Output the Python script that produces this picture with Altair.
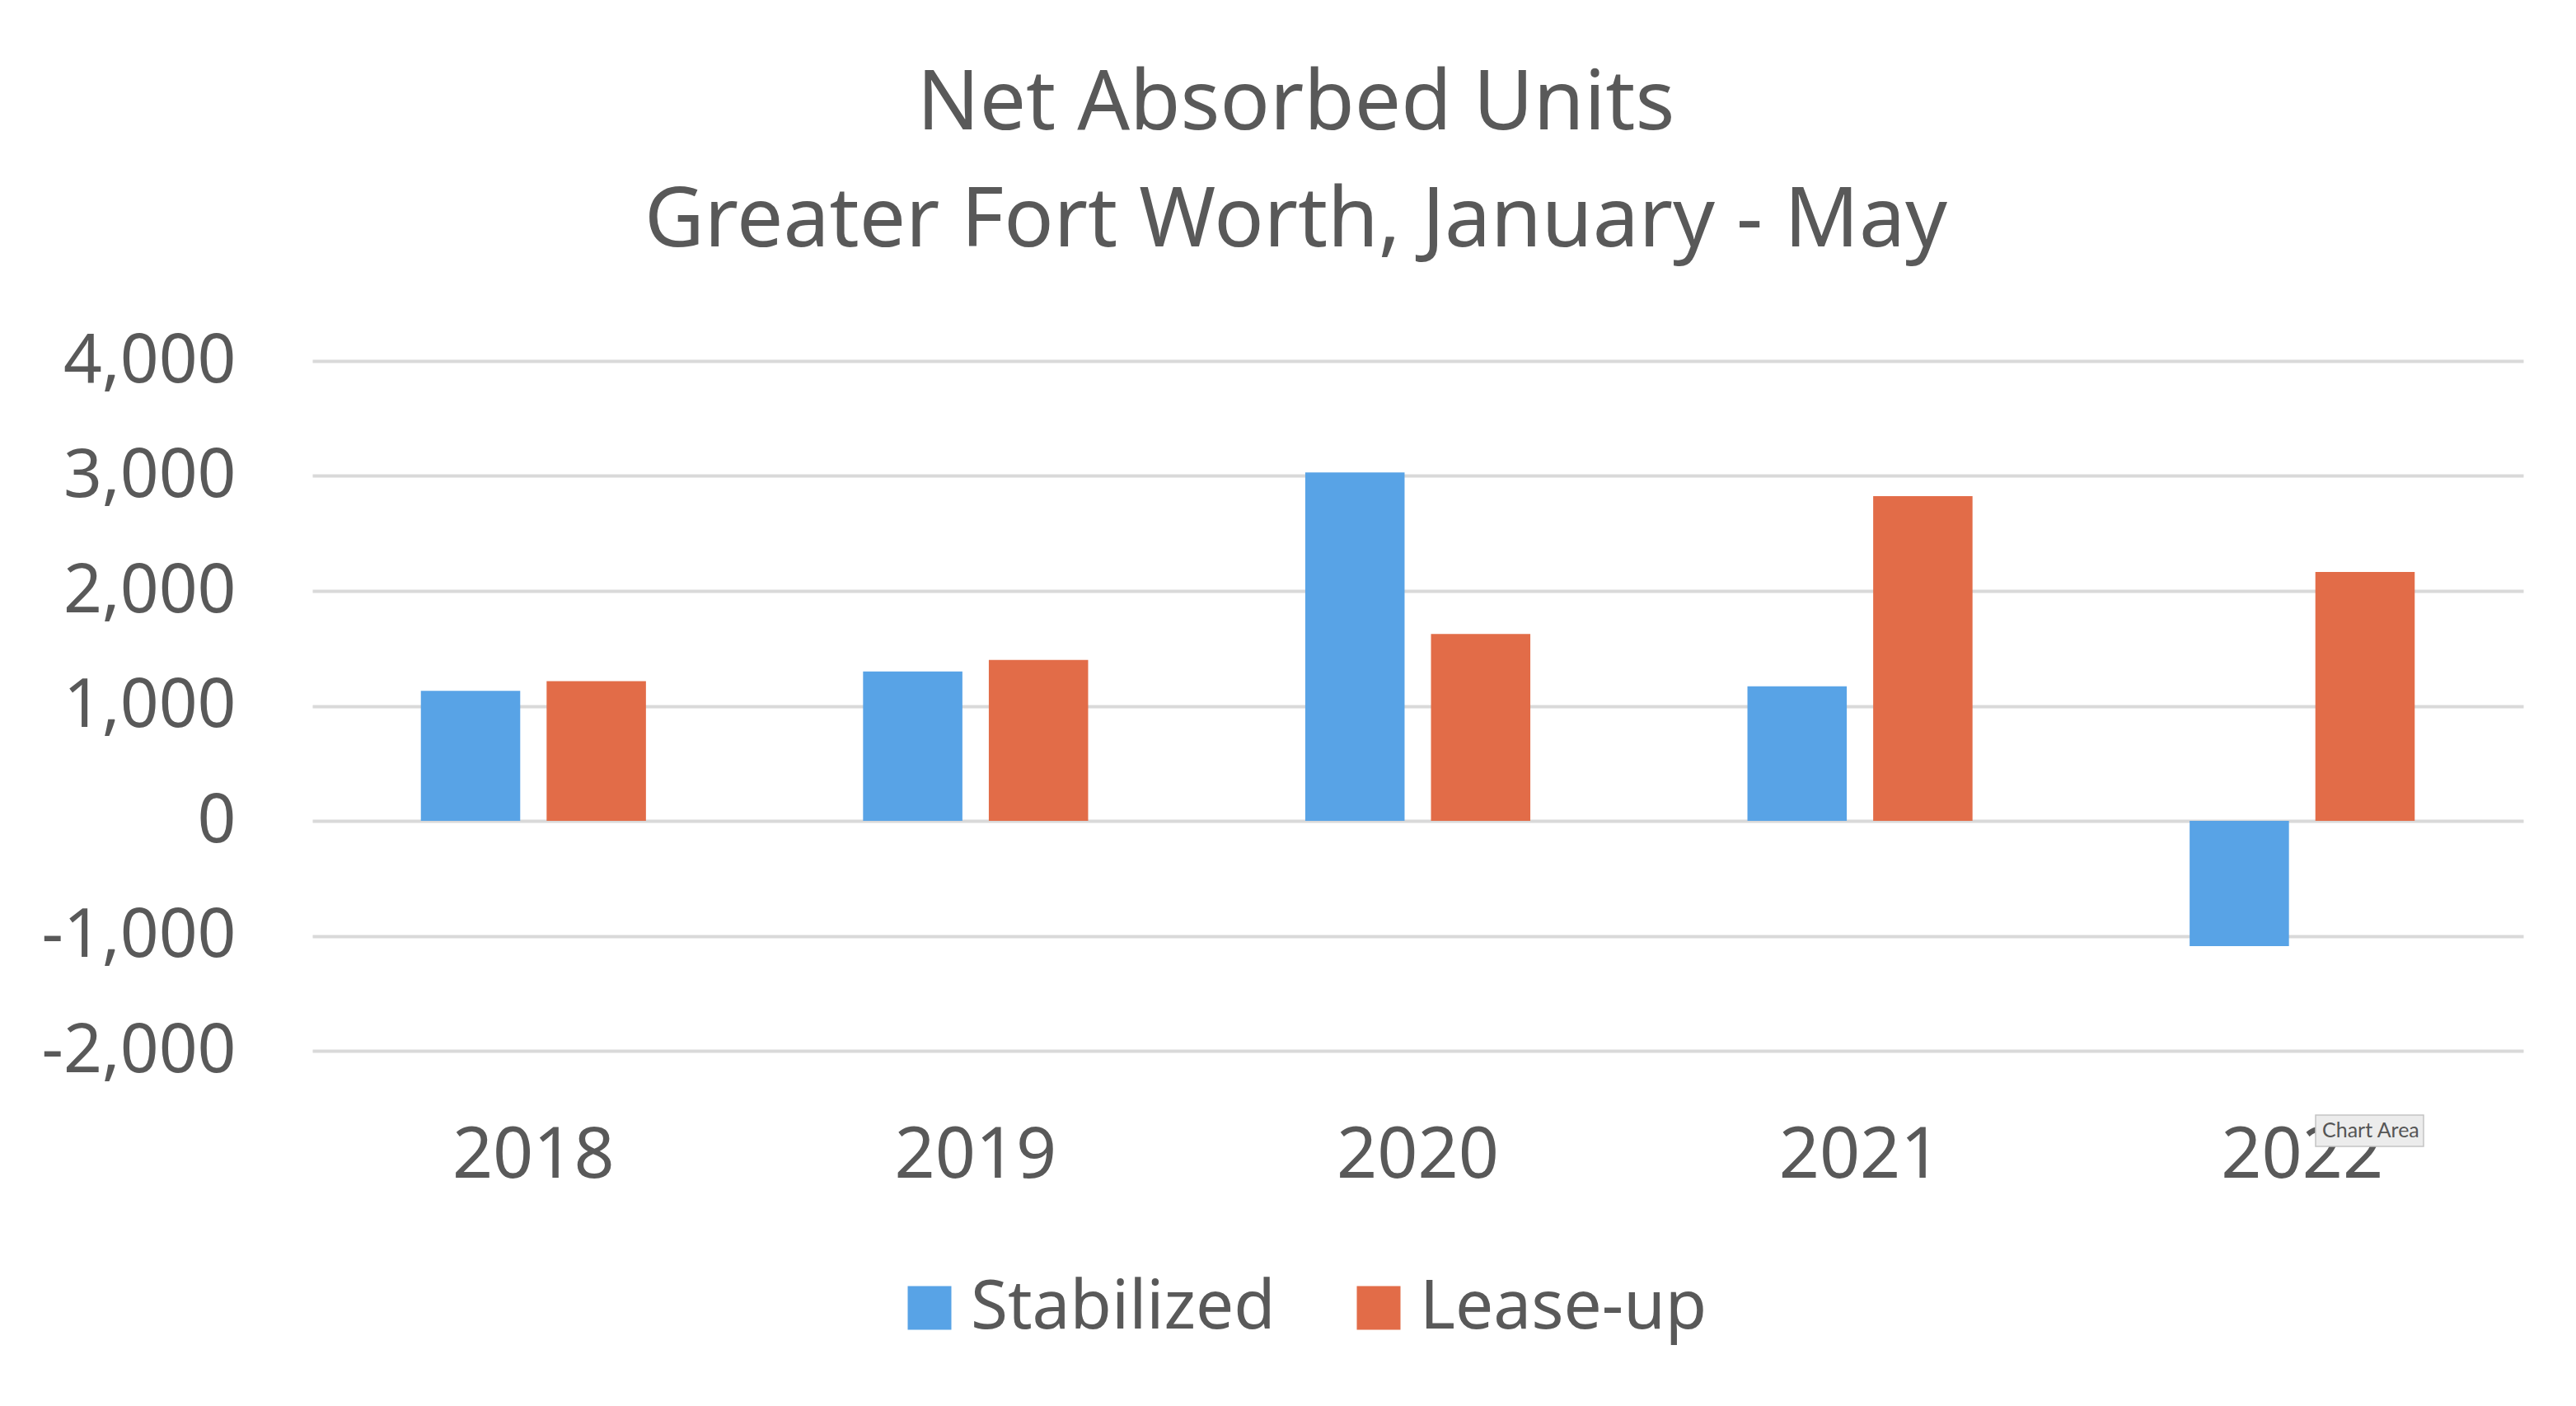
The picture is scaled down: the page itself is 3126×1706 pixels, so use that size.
import altair as alt
import pandas as pd

years = ["2018", "2019", "2020", "2021", "2022"]
stabilized = [1130, 1300, 3030, 1170, -1090]
lease_up = [1215, 1400, 1625, 2825, 2165]
series = ["Stabilized", "Lease-up"]
colors = ["#58A3E6", "#E26C48"]
y_ticks = [-2000, -1000, 0, 1000, 2000, 3000, 4000]

rows = []
for i, yr in enumerate(years):
    rows.append({"year": yr, "series": series[0], "value": stabilized[i]})
    rows.append({"year": yr, "series": series[1], "value": lease_up[i]})
df = pd.DataFrame(rows)

FONT = "Noto Sans"
GREY = "#595959"

bars = alt.Chart(df).mark_bar().encode(
    x=alt.X(
        "year:N", sort=years,
        scale=alt.Scale(paddingInner=0.491, paddingOuter=0.2455),
        axis=alt.Axis(title=None, labelAngle=0, labelFontSize=86, labelColor=GREY,
                      labelFont=FONT, domain=False, ticks=False, tickSize=0,
                      labelPadding=85, grid=False, labelLimit=0),
    ),
    xOffset=alt.XOffset("series:N", sort=series,
                        scale=alt.Scale(paddingInner=0.21, paddingOuter=0)),
    y=alt.Y(
        "value:Q",
        scale=alt.Scale(domain=[-2000, 4000], nice=False, zero=False),
        axis=alt.Axis(values=y_ticks, title=None, grid=True, gridColor="#d9d9d9",
                      gridWidth=4, domain=False, ticks=False, tickSize=0,
                      labelPadding=93, labelFontSize=82, labelColor=GREY, labelFont=FONT,
                      labelLimit=0,
                      labelExpr="datum.value < 0 ? '-' + format(-datum.value, ',') : format(datum.value, ',')"),
    ),
    color=alt.Color(
        "series:N", sort=series,
        scale=alt.Scale(domain=series, range=colors),
        legend=alt.Legend(title=None, orient="none", legendX=708, legendY=1108,
                          direction="horizontal", symbolType="square", symbolSize=2809,
                          labelFontSize=82, labelColor=GREY, labelFont=FONT,
                          columnPadding=84, labelOffset=9, symbolStrokeWidth=0,
                          symbolOpacity=1, labelLimit=0),
    ),
)

tip_df = pd.DataFrame({"t": ["Chart Area"]})
tip_box = alt.Chart(tip_df).mark_rect(fill="#ececec", stroke="#c4c4c4", strokeWidth=1.5).encode(
    x=alt.value(2431), x2=alt.value(2562), y=alt.value(915), y2=alt.value(953)
)
tip_text = alt.Chart(tip_df).mark_text(font="Lato", fontSize=25, color="#555555",
                                       align="left", baseline="middle").encode(
    x=alt.value(2439), y=alt.value(934), text="t:N"
)

chart = alt.layer(bars, tip_box, tip_text).properties(
    width=2683, height=837,
    autosize=alt.AutoSizeParams(type="none"),
    padding={"left": 371, "top": 430, "right": 56, "bottom": 415},
    background="white",
    title=alt.TitleParams(
        text="Net Absorbed Units", subtitle="Greater Fort Worth, January - May",
        font=FONT, subtitleFont=FONT, fontSize=100, subtitleFontSize=100,
        fontWeight="normal", subtitleFontWeight="normal",
        color=GREY, subtitleColor=GREY, anchor="middle", frame="group",
        dx=-148, offset=77, subtitlePadding=42,
    ),
).configure_view(strokeWidth=0)

chart.save("out.html", embed_options={"renderer": "svg", "actions": False})
